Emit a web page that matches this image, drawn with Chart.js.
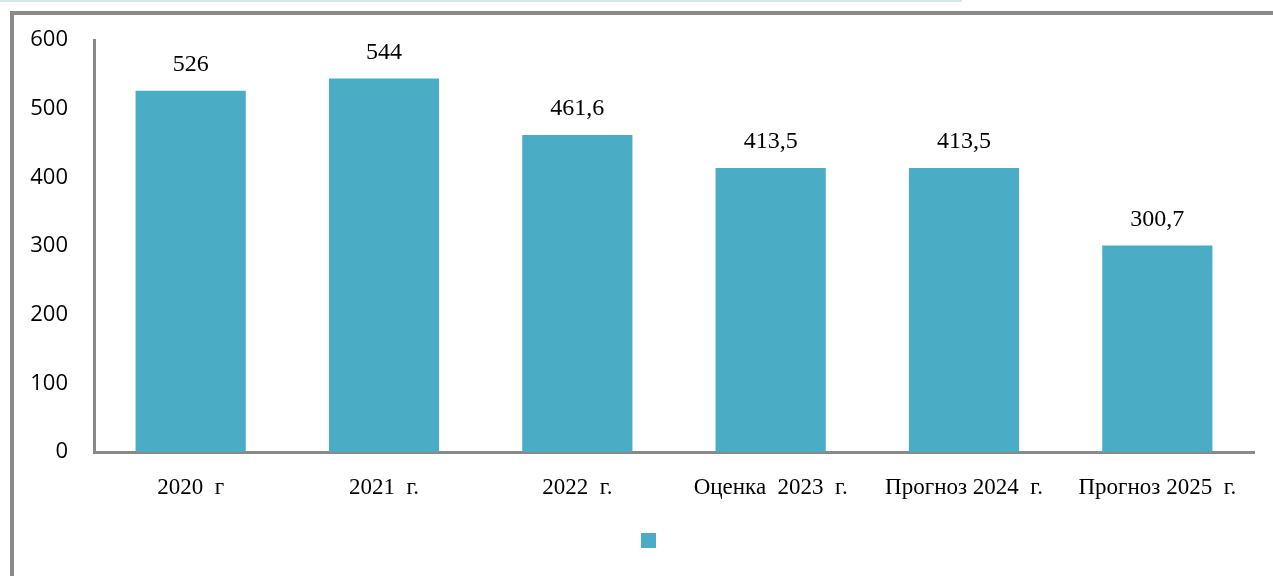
<!DOCTYPE html>
<html lang="ru">
<head>
<meta charset="utf-8">
<script src="https://cdn.jsdelivr.net/npm/chart.js@4.4.1/dist/chart.umd.min.js"></script>
<style>
  html, body { margin: 0; padding: 0; background: #fff; overflow: hidden; }
  #wrap { position: relative; width: 1273px; height: 576px; }
  #topline { position: absolute; left: 0; top: 0; width: 962px; height: 2px; background: #d3eae8; }
  #frame { position: absolute; left: 10px; top: 11px; width: 1400px; height: 700px;
           border: 4px solid #8a8a8a; pointer-events: none; }
  canvas { position: absolute; left: 0; top: 0; }
</style>
</head>
<body>
<div id="wrap">
  <div id="topline"></div>
  <canvas id="chart" width="1273" height="576"></canvas>
  <div id="frame"></div>
</div>
<script>
// --- данные ---
const categories = ['2020  г', '2021  г.', '2022  г.', 'Оценка  2023  г.', 'Прогноз 2024  г.', 'Прогноз 2025  г.'];
const values = [526, 544, 461.6, 413.5, 413.5, 300.7];
const yTicks = [0, 100, 200, 300, 400, 500, 600];

const barColor = '#4bacc6';
const axisColor = '#898989';

// подписи значений над столбцами
const barLabels = {
    id: 'barLabels',
    afterDatasetsDraw(chart) {
        const ctx = chart.ctx;
        const meta = chart.getDatasetMeta(0);
        ctx.save();
        ctx.font = '24px "Liberation Serif"';
        ctx.fillStyle = '#000';
        ctx.textAlign = 'center';
        ctx.textBaseline = 'middle';
        meta.data.forEach((bar, i) => {
            ctx.fillText(String(values[i]).replace('.', ','), bar.x, bar.y - 26);
        });
        ctx.restore();
    }
};

// легенда в оригинале чуть правее центра
const legendShift = {
    id: 'legendShift',
    afterLayout(chart) {
        chart.legend.left += 24.5;
        chart.legend.right += 24.5;
    }
};

new Chart(document.getElementById('chart'), {
    type: 'bar',
    data: {
        labels: categories,
        datasets: [{
            label: '',
            data: values,
            backgroundColor: barColor,
            borderWidth: 0,
            categoryPercentage: 1,
            barPercentage: 0.57
        }]
    },
    options: {
        responsive: false,
        animation: false,
        layout: { padding: { left: 0, right: 19, top: 40, bottom: 18 } },
        plugins: {
            tooltip: { enabled: false },
            legend: {
                position: 'bottom',
                labels: { boxWidth: 15, boxHeight: 15, padding: 10, font: { size: 12 } }
            }
        },
        scales: {
            x: {
                grid: { display: false, drawTicks: false },
                border: { display: true, color: axisColor, width: 3 },
                ticks: {
                    color: '#000',
                    padding: 22,
                    maxRotation: 0,
                    autoSkip: false,
                    font: { family: '"Liberation Serif"', size: 23 }
                },
                afterFit(scale) { scale.height = 71; }
            },
            y: {
                min: 0,
                max: 600,
                grid: { display: false, drawTicks: false },
                border: { display: true, color: axisColor, width: 3 },
                afterBuildTicks(scale) { scale.ticks = yTicks.map(v => ({ value: v })); },
                ticks: {
                    color: '#000',
                    padding: 26,
                    font: { family: '"Open Sans"', size: 22 }
                },
                afterFit(scale) { scale.width = 94; }
            }
        }
    },
    plugins: [barLabels, legendShift]
});
</script>
</body>
</html>
